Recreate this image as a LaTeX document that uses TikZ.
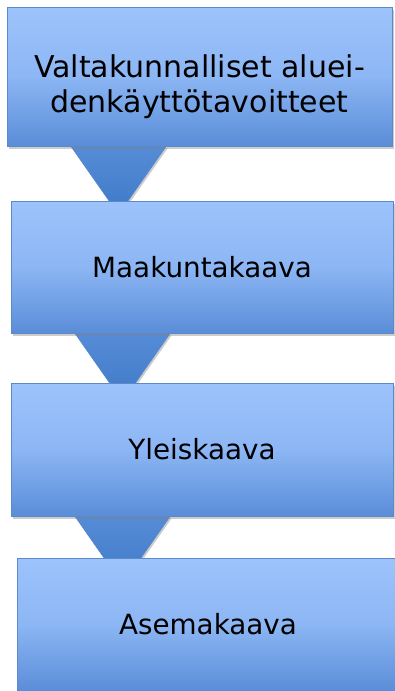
\documentclass[tikz,border=0pt]{standalone}
\usepackage{fontspec}
\setmainfont{DejaVu Sans}
\usetikzlibrary{shadows,backgrounds}
\definecolor{boxtop}{RGB}{157,195,251}
\definecolor{boxmid}{RGB}{140,182,244}
\definecolor{boxbot}{RGB}{90,141,216}
\definecolor{boxline}{RGB}{92,136,204}
\definecolor{funneltop}{RGB}{86,140,215}
\definecolor{funnelbot}{RGB}{62,121,199}
\begin{document}
\begin{tikzpicture}[x=1pt,y=-1pt,
  stage/.style={rectangle,draw=boxline,line width=0.9pt,
    top color=boxtop,bottom color=boxbot,middle color=boxmid,
    minimum width=382pt,minimum height=133pt,inner sep=0pt,
    font=\fontsize{27.8}{35}\selectfont,
    drop shadow={opacity=0.4,shadow xshift=1.5pt,shadow yshift=-2.5pt}},
  funnel/.style={draw=boxline,line width=0.6pt,
    top color=funneltop,bottom color=funnelbot,
    drop shadow={opacity=0.4,shadow xshift=1.5pt,shadow yshift=-2pt}}]
\useasboundingbox (0,0) rectangle (395,691);
\node[stage,minimum width=385pt,minimum height=139pt,
  label={[yshift=-10pt,align=center,font=\fontsize{30}{35}\selectfont]center:Valtakunnalliset aluei-\\denkäyttötavoitteet}]
  (valta) at (199.5,76.5) {};
\node[stage,minimum height=132pt] (maakunta) at (202,267) {Maakuntakaava};
\node[stage] (yleis) at (202,449.5) {Yleiskaava};
\node[stage] (asema) at (208,624.5) {Asemakaava};
% funnels between the stages
\begin{scope}[on background layer]
\foreach \upper in {valta,maakunta,yleis}
  \draw[funnel] ([xshift=64.5pt]\upper.south west) -- ([xshift=159.5pt]\upper.south west)
    -- ([xshift=112pt,yshift=-68pt]\upper.south west) -- cycle;
\end{scope}
\end{tikzpicture}
\end{document}
